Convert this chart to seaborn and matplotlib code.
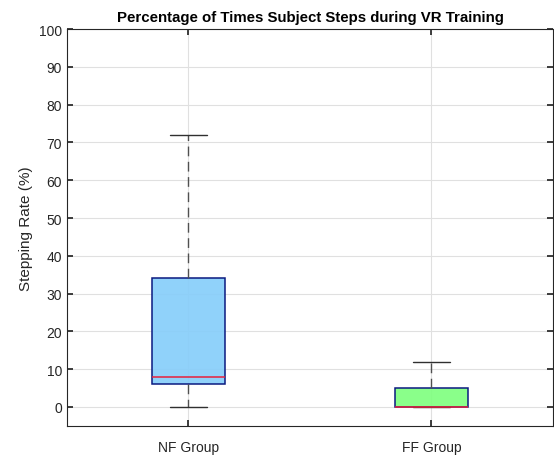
import numpy as np
import pandas as pd
import seaborn as sns
import matplotlib
matplotlib.use("Agg")
import matplotlib.pyplot as plt
from matplotlib.colors import to_rgba
from matplotlib.patches import PathPatch

# Values (five-number summaries per group)
groups = ["NF Group", "FF Group"]
nf_values = [0, 6, 8, 34, 72]
ff_values = [0, 0, 0, 5, 12]
box_colors = ["#87CEFA", "#80FF80"]
yticks = list(range(0, 101, 10))

df = pd.DataFrame({
    "group": [groups[0]] * len(nf_values) + [groups[1]] * len(ff_values),
    "rate": nf_values + ff_values,
})

sns.set_theme(style="whitegrid")
plt.rcParams["font.family"] = ["Liberation Sans", "DejaVu Sans"]

fig = plt.figure(figsize=(5.54, 4.56), dpi=100)
ax = fig.add_axes([0.121, 0.064, 0.877, 0.870])

sns.boxplot(
    data=df, x="group", y="rate", order=groups, hue="group", hue_order=groups,
    palette=box_colors, saturation=1, legend=False, width=0.3, whis=1.5,
    showfliers=False,
    boxprops=dict(edgecolor="#0A1A80", linewidth=1.1),
    medianprops=dict(color="#E8203C", linewidth=1.1, zorder=5),
    whiskerprops=dict(color="#505050", linewidth=1.0, linestyle=(0, (7, 4))),
    capprops=dict(color="#303030", linewidth=1.0),
    ax=ax,
)

for p, c in zip([a for a in ax.patches if isinstance(a, PathPatch)], box_colors):
    p.set_facecolor(to_rgba(c, 0.92))

ax.set_ylim(-5, 100)
ax.set_xlim(-0.5, 1.5)
ax.set_yticks(yticks)
ax.set_xlabel("")
ax.set_ylabel("Stepping Rate (%)", fontsize=11, color="#262626")
ax.set_title("Percentage of Times Subject Steps during VR Training",
             fontsize=10.8, fontweight="bold", color="black", pad=6)
ax.grid(True, color="#E0E0E0", linewidth=0.8)
ax.set_axisbelow(True)
ax.set_facecolor("white")
for s in ax.spines.values():
    s.set_visible(True)
    s.set_color("#262626")
    s.set_linewidth(0.8)
ax.tick_params(axis="both", direction="in", length=4, color="#262626",
               labelsize=10, labelcolor="#262626", left=True, bottom=True,
               top=True, right=True)
ax.tick_params(axis="x", pad=10)

fig.savefig("out.png", dpi=100, facecolor="white")
